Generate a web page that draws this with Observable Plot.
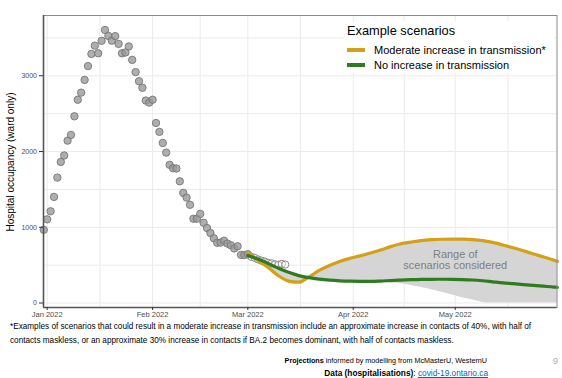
<!DOCTYPE html>
<html><head><meta charset="utf-8">
<script src="https://cdn.jsdelivr.net/npm/d3@7"></script>
<script src="https://cdn.jsdelivr.net/npm/@observablehq/plot@0.6"></script>
<style>
html,body{margin:0;padding:0;background:#fff;}
#wrap{position:relative;width:562px;height:378px;overflow:hidden;font-family:"Liberation Sans",Arial,sans-serif;color:#000;}
#chart{position:absolute;left:0;top:0;}
.abs{position:absolute;white-space:nowrap;}
#legbg{position:absolute;left:345px;top:21px;width:209px;height:52px;background:#fff;}
.key{position:absolute;width:18px;height:3.4px;}
#ylab{position:absolute;left:10px;top:162px;transform:translate(-50%,-50%) rotate(-90deg);font-size:10px;white-space:nowrap;}
.foot{line-height:14px;}
a{color:#0563C1;text-decoration:underline;}
</style></head><body>
<div id="wrap">
<div id="chart"></div>
<div id="ylab">Hospital occupancy (ward only)</div>
<div id="legbg"></div>
<div class="abs" style="left:347px;top:23px;font-size:12.8px;line-height:15px;">Example scenarios</div>
<div class="key" style="left:347px;top:48.3px;background:#D4A017"></div>
<div class="abs" style="left:374px;top:43.5px;font-size:11px;line-height:13px;">Moderate increase in transmission*</div>
<div class="key" style="left:347px;top:63.3px;background:#2F7B1F"></div>
<div class="abs" style="left:374px;top:58.5px;font-size:11px;line-height:13px;">No increase in transmission</div>
<div class="abs foot" style="left:10px;top:320px;font-size:8.2px;">*Examples of scenarios that could result in a moderate increase in transmission include an approximate increase in contacts of 40%, with half of<br>contacts maskless, or an approximate 30% increase in contacts if BA.2 becomes dominant, with half of contacts maskless.</div>
<div class="abs foot" style="right:75px;top:354px;text-align:right;font-size:7.2px;"><b>Projections</b> informed by modelling from McMasterU, WesternU</div>
<div class="abs foot" style="right:74px;top:366px;text-align:right;font-size:8.3px;"><b>Data (hospitalisations)</b>: <a>covid-19.ontario.ca</a></div>
<div class="abs" style="left:553px;top:356px;font-size:9px;color:#aaa;">9</div>
</div>
<script>
// Observed ward occupancy, daily from 2021-12-31 to 2022-03-01
const obsStart = "2021-12-31";
const observed = [966,1105,1211,1401,1656,1863,1948,2144,2219,2465,2684,2778,2946,3128,3289,3398,3297,3462,3605,3526,
  3464,3524,3421,3297,3308,3387,3210,3049,2928,2842,2673,2646,2684,2377,2260,2113,1986,1825,1780,1776,
  1607,1454,1392,1297,1113,1113,1177,1060,990,925,855,796,798,823,785,763,720,749,636,634,645];
// Observed after projection start, daily from 2022-03-02
const lateStart = "2022-03-02";
const observedLate = [610,597,575,560,547,530,525,512,504,517,508];

// Projection dates
const projDates = ["2022-03-01","2022-03-04","2022-03-07","2022-03-10","2022-03-13","2022-03-16","2022-03-19","2022-03-22",
  "2022-03-25","2022-03-28","2022-03-31","2022-04-03","2022-04-06","2022-04-09","2022-04-12","2022-04-15","2022-04-18",
  "2022-04-21","2022-04-24","2022-04-27","2022-04-30","2022-05-03","2022-05-06","2022-05-09","2022-05-12","2022-05-15",
  "2022-05-18","2022-05-21","2022-05-24","2022-05-27","2022-05-30","2022-05-31"];
const moderate   = [668,560,470,360,290,275,345,430,495,548,590,622,660,700,745,782,805,825,836,842,845,843,838,825,800,767,730,690,648,608,565,550];
const noIncrease = [628,580,522,460,405,362,335,316,302,293,288,286,286,290,297,303,308,311,313,314,313,310,304,294,280,266,255,244,233,222,211,208];
const rangeLow   = [628,560,470,360,290,275,335,316,302,293,288,286,286,283,272,255,232,205,175,143,110,70,42,8,0,0,0,0,0,0,0,0];
const rangeHigh  = [668,580,522,460,405,362,345,430,495,548,590,622,660,700,745,782,805,825,836,842,845,843,838,825,800,767,730,690,648,608,565,550];

const yTicks = [0,1000,2000,3000];
const yGrid = [0,500,1000,1500,2000,2500,3000,3500];
const monthTicks = ["2022-01-01","2022-02-01","2022-03-01","2022-04-01","2022-05-01"];
const minorTicks = ["2022-01-16T12:00","2022-02-15T00:00","2022-03-16T12:00","2022-04-16T00:00","2022-05-16T12:00"];
const rangeLabel = {date:"2022-05-01", value:570, text:"Range of\nscenarios considered"};

const DAY = 864e5;
const t0 = new Date(obsStart + "T00:00Z").getTime();
const obs = observed.map((v,i)=>({date:new Date(t0 + i*DAY), value:v}));
const t1 = new Date(lateStart + "T00:00Z").getTime();
const obsLate = observedLate.map((v,i)=>({date:new Date(t1 + i*DAY), value:v}));
const proj = projDates.map((d,i)=>({date:new Date(d+"T00:00Z"), moderate:moderate[i], none:noIncrease[i], lo:rangeLow[i], hi:rangeHigh[i]}));
const xMajor = monthTicks.map(d=>new Date(d+"T00:00Z"));
const xMinor = minorTicks.map(d=>new Date(d+"Z"));
const xDomain = [new Date("2021-12-30T22:00Z"), new Date("2022-05-30T22:00Z")];
const yDomain = [-59, 3796];

const chart = Plot.plot({
  width: 562, height: 320,
  marginLeft: 43, marginRight: 5.5, marginTop: 15, marginBottom: 13,
  x: {type: "utc", domain: xDomain},
  y: {domain: yDomain},
  style: {fontFamily: "Liberation Sans, Arial, sans-serif", background: "white", color: "#4d4d4d"},
  marks: [
    Plot.ruleY(yGrid, {stroke: "#ebebeb", strokeWidth: 1}),
    Plot.ruleX(xMajor.concat(xMinor), {stroke: "#ebebeb", strokeWidth: 1}),
    Plot.areaY(proj, {x: "date", y1: "lo", y2: "hi", fill: "#d5d5d5", curve: "monotone-x"}),
    Plot.dot(obsLate, {x: "date", y: "value", r: 3.6, fill: "white", fillOpacity: 0.4, stroke: "#8a8a8a", strokeWidth: 1}),
    Plot.dot(obs, {x: "date", y: "value", r: 3.7, fill: "#9a9a9a", fillOpacity: 0.8, stroke: "#777", strokeWidth: 0.9}),
    Plot.line(proj, {x: "date", y: "moderate", stroke: "#D4A017", strokeWidth: 3.2, curve: "monotone-x"}),
    Plot.line(proj, {x: "date", y: "none", stroke: "#2F7B1F", strokeWidth: 3.2, curve: "monotone-x"}),
    Plot.text([rangeLabel], {x: d=>new Date(d.date+"T00:00Z"), y: "value", text: "text", fill: "#7f7f7f", fontSize: 11, lineHeight: 1.05}),
    Plot.frame({stroke: "#8a8a8a", strokeWidth: 1}),
    Plot.ruleX([xDomain[0]], {stroke: "#555", strokeWidth: 1.6}),
    Plot.ruleY([yDomain[0]], {stroke: "#555", strokeWidth: 1.6}),
    Plot.axisY({ticks: yTicks, tickFormat: d3.format("d"), tickSize: 4, tickPadding: 2.5, label: null, fontSize: 7, stroke: "#333", fill: "#4d4d4d"}),
    Plot.axisX({ticks: xMajor, tickFormat: d3.utcFormat("%b %Y"), tickSize: 3, tickPadding: 1.5, label: null, fontSize: 7.5, stroke: "#333", fill: "#4d4d4d"})
  ]
});
document.getElementById("chart").appendChild(chart);
</script>
</body></html>
